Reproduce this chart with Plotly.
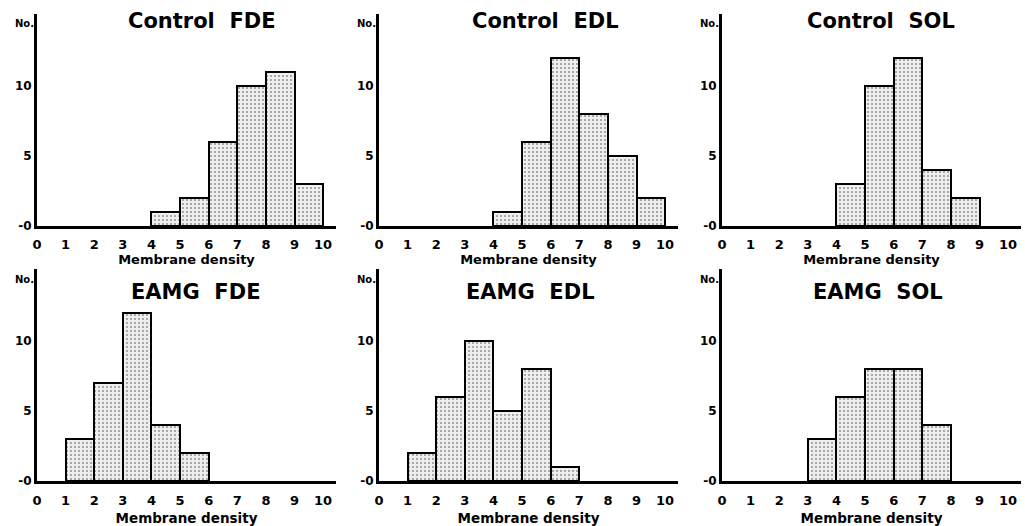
import plotly.graph_objects as go

# ---- data (bin start, count) ----
titles = ["Control\u00a0 FDE", "Control\u00a0 EDL", "Control\u00a0 SOL",
          "EAMG\u00a0 FDE", "EAMG\u00a0 EDL", "EAMG\u00a0 SOL"]
ctrl_fde_bins = [4, 5, 6, 7, 8, 9]
ctrl_fde_counts = [1, 2, 6, 10, 11, 3]
ctrl_edl_bins = [4, 5, 6, 7, 8, 9]
ctrl_edl_counts = [1, 6, 12, 8, 5, 2]
ctrl_sol_bins = [4, 5, 6, 7, 8]
ctrl_sol_counts = [3, 10, 12, 4, 2]
eamg_fde_bins = [1, 2, 3, 4, 5]
eamg_fde_counts = [3, 7, 12, 4, 2]
eamg_edl_bins = [1, 2, 3, 4, 5, 6]
eamg_edl_counts = [2, 6, 10, 5, 8, 1]
eamg_sol_bins = [3, 4, 5, 6, 7]
eamg_sol_counts = [3, 6, 8, 8, 4]
x_ticks = list(range(0, 11))
y_ticks = [0, 5, 10]
x_label = "Membrane density"
y_label = "No."

panels = [
    (ctrl_fde_bins, ctrl_fde_counts),
    (ctrl_edl_bins, ctrl_edl_counts),
    (ctrl_sol_bins, ctrl_sol_counts),
    (eamg_fde_bins, eamg_fde_counts),
    (eamg_edl_bins, eamg_edl_counts),
    (eamg_sol_bins, eamg_sol_counts),
]

W, H = 1025, 526
col_px = [(37, 336), (379, 678), (722, 1021)]
row_px = [(14, 226), (269, 481)]  # top, bottom

FONT = "DejaVu Sans"

fig = go.Figure()
annotations = []

for i, (bins, counts) in enumerate(panels):
    r, c = divmod(i, 3)
    n = i + 1
    xa = "x" if n == 1 else f"x{n}"
    ya = "y" if n == 1 else f"y{n}"
    fig.add_trace(go.Bar(
        x=[b + 0.5 for b in bins], y=counts, width=1.0,
        xaxis=xa, yaxis=ya,
        marker=dict(color="#e6e6e6",
                    line=dict(color="black", width=2),
                    pattern=dict(shape=".", size=4, solidity=0.2,
                                 fgcolor="#333333", bgcolor="#eeeeee")),
        showlegend=False, hoverinfo="x+y",
    ))
    x0, x1 = col_px[c]
    top, bot = row_px[r]
    xdom = [x0 / W, x1 / W]
    ydom = [1 - bot / H, 1 - top / H]
    axis_x = dict(domain=xdom, range=[0, 10.45], anchor=ya, automargin=False,
                  tickvals=x_ticks, ticktext=[str(t) for t in x_ticks],
                  showline=True, linecolor="black", linewidth=3,
                  showgrid=False, zeroline=False, ticks="",
                  ticklabelstandoff=4 if r == 0 else 5,
                  tickfont=dict(family=FONT, size=13, color="black", weight="bold"),
                  title=dict(text=x_label, standoff=2 if r == 0 else 8,
                             font=dict(family=FONT, size=13 if r == 0 else 13.5,
                                       color="black", weight="bold")),
                  fixedrange=True)
    axis_y = dict(domain=ydom, range=[0, 15.1], anchor=xa, automargin=False,
                  tickvals=y_ticks, ticktext=["-0", "5", "10"],
                  showline=True, linecolor="black", linewidth=3,
                  showgrid=False, zeroline=False, ticks="",
                  tickfont=dict(family=FONT, size=12, color="black", weight="bold"),
                  fixedrange=True)
    fig.layout["xaxis" if n == 1 else f"xaxis{n}"] = axis_x
    fig.layout["yaxis" if n == 1 else f"yaxis{n}"] = axis_y

    # panel title
    title_cx = [202, 545, 881, 195, 530, 878][i]
    title_cy = [21, 21, 21, 292, 292, 292][i]
    annotations.append(dict(text=titles[i], xref="paper", yref="paper",
                            x=title_cx / W, y=1 - title_cy / H,
                            xanchor="center", yanchor="middle", showarrow=False,
                            font=dict(family=FONT, size=21, color="black", weight="bold")))
    # "No." label
    annotations.append(dict(text=y_label, xref="paper", yref="paper",
                            x=(x0 - 1) / W, y=1 - (top + 10) / H,
                            xanchor="right", yanchor="middle", showarrow=False,
                            font=dict(family=FONT, size=10, color="black", weight="bold")))

fig.update_layout(
    width=W, height=H,
    margin=dict(l=0, r=0, t=0, b=0, autoexpand=False),
    paper_bgcolor="white", plot_bgcolor="white",
    annotations=annotations,
    bargap=0,
)

fig.write_html("out.html",
               config={"displayModeBar": False},
               post_script="document.body.style.margin='0';document.body.style.overflow='hidden';")
